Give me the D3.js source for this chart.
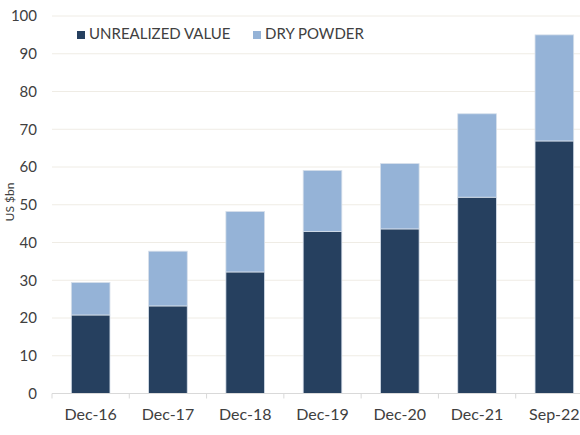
<!DOCTYPE html>
<html>
<head>
<meta charset="utf-8">
<script src="https://cdn.jsdelivr.net/npm/d3@7"></script>
<style>
  body { margin: 0; background: #fff; }
  text { font-family: Lato, "Open Sans", sans-serif; fill: #404040; }
</style>
</head>
<body>
<div id="chart"></div>
<script>
// Data.
var categories = ['Dec-16', 'Dec-17', 'Dec-18', 'Dec-19', 'Dec-20', 'Dec-21', 'Sep-22'];
var unrealized = [20.8, 23.2, 32.2, 42.9, 43.6, 52.0, 66.9];
var dryPowder = [8.6, 14.5, 16.0, 16.2, 17.3, 22.1, 28.1];
var yTicks = [0, 10, 20, 30, 40, 50, 60, 70, 80, 90, 100];
var seriesNames = ['UNREALIZED VALUE', 'DRY POWDER'];
var colors = ['#26405f', '#95b3d7'];

var width = 580, height = 435;
var margin = { top: 16, left: 52, bottom: 41.5 };

var svg = d3.select('#chart')
    .append('svg')
    .attr('width', width)
    .attr('height', height);

var x = d3.scaleBand()
    .domain(categories)
    .range([margin.left, 593])
    .paddingInner(0.5)
    .paddingOuter(0.25);

var y = d3.scaleLinear()
    .domain([0, 100])
    .range([height - margin.bottom, margin.top]);

// Gridlines.
svg.append('g')
    .selectAll('line')
    .data(yTicks.filter(function(d) { return d > 0; }))
    .enter()
    .append('line')
    .attr('x1', margin.left)
    .attr('x2', width)
    .attr('y1', function(d) { return y(d); })
    .attr('y2', function(d) { return y(d); })
    .style('stroke', '#efece5')
    .style('stroke-width', 1);

// Stacked bars.
var rows = categories.map(function(c, i) {
    return { cat: c, unrealized: unrealized[i], dry: dryPowder[i] };
});
var stack = d3.stack().keys(['unrealized', 'dry'])(rows);

svg.append('g')
    .selectAll('g')
    .data(stack)
    .enter()
    .append('g')
    .style('fill', function(d, i) { return colors[i]; })
    .selectAll('rect')
    .data(function(d) { return d; })
    .enter()
    .append('rect')
    .attr('x', function(d) { return x(d.data.cat); })
    .attr('width', x.bandwidth())
    .attr('y', function(d) { return y(d[1]); })
    .attr('height', function(d) { return y(d[0]) - y(d[1]); })
    .style('stroke', '#d6dfea')
    .style('stroke-width', 0.8);

// X axis.
var xAxis = svg.append('g')
    .attr('transform', 'translate(0,' + y(0) + ')')
    .call(d3.axisBottom(x).tickSize(0).tickPadding(0));
xAxis.select('.domain').remove();
xAxis.selectAll('text')
    .attr('dy', null)
    .attr('y', 26)
    .style('font-size', '16px');

xAxis.append('line')
    .attr('x1', margin.left)
    .attr('x2', width)
    .style('stroke', '#d9d9d9');
xAxis.selectAll('.sep')
    .data(categories)
    .enter()
    .append('line')
    .attr('class', 'sep')
    .attr('x1', function(d) { return x(d) - x.step() * 0.25; })
    .attr('x2', function(d) { return x(d) - x.step() * 0.25; })
    .attr('y1', 0)
    .attr('y2', 5)
    .style('stroke', '#d9d9d9');

// Y axis.
var yAxis = svg.append('g')
    .attr('transform', 'translate(' + margin.left + ',0)')
    .call(d3.axisLeft(y).tickValues(yTicks).tickSize(0).tickPadding(15));
yAxis.select('.domain').remove();
yAxis.selectAll('text').style('font-size', '15px');

svg.append('text')
    .attr('transform', 'translate(14,202) rotate(-90)')
    .attr('text-anchor', 'middle')
    .style('font-size', '12px')
    .text('US $bn');

// Legend.
var legendX = [77, 253];
var legend = svg.append('g')
    .selectAll('g')
    .data(seriesNames)
    .enter()
    .append('g')
    .attr('transform', function(d, i) { return 'translate(' + legendX[i] + ',31)'; });
legend.append('rect')
    .attr('width', 8)
    .attr('height', 8)
    .style('fill', function(d, i) { return colors[i]; });
legend.append('text')
    .attr('x', 12)
    .attr('y', 8)
    .style('font-size', '15px')
    .text(function(d) { return d; });
</script>
</body>
</html>
